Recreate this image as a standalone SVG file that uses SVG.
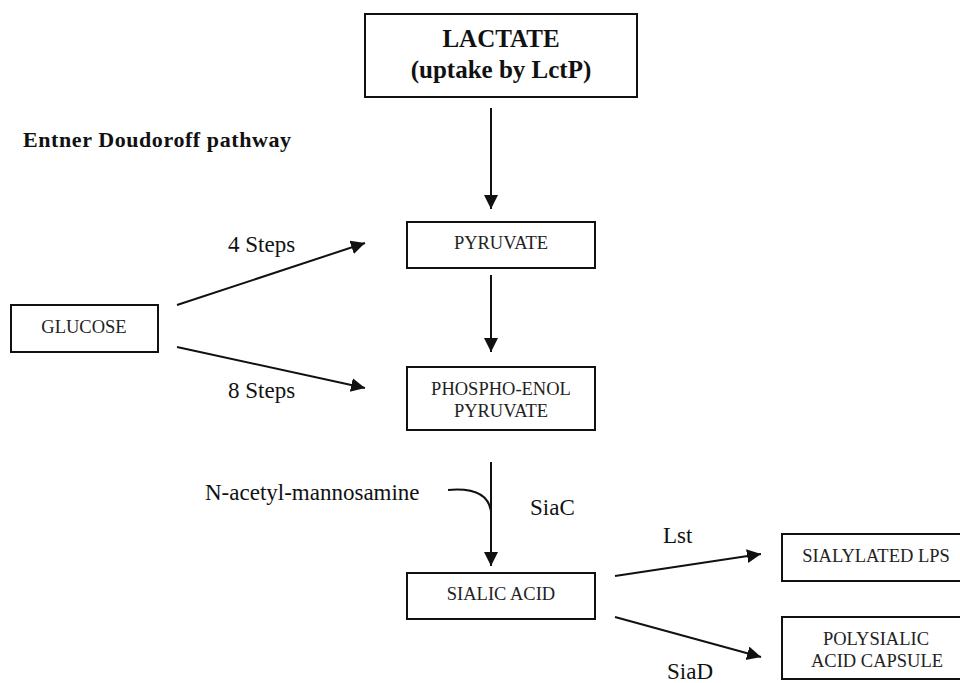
<svg xmlns="http://www.w3.org/2000/svg" width="960" height="683" viewBox="0 0 960 683">
<defs>
<style>
.box{fill:#fff;stroke:#111;stroke-width:2}
.bt{font-family:"Liberation Serif","Times New Roman",serif;font-size:18.5px;fill:#222;text-anchor:middle}
.lbl{font-family:"Liberation Serif","Times New Roman",serif;font-size:23px;fill:#111}
.bold{font-family:"Liberation Serif","Times New Roman",serif;font-weight:bold;fill:#111}
.conn{fill:none;stroke:#111;stroke-width:2}
</style>
<marker id="ah" markerUnits="userSpaceOnUse" markerWidth="16" markerHeight="16" refX="14" refY="7" orient="auto">
<path d="M0,0 L14,7 L0,14 z" fill="#111"/>
</marker>
</defs>
<rect width="960" height="683" fill="#fff"/>
<text class="bold" x="23" y="147" font-size="22" textLength="268">Entner Doudoroff pathway</text>
<g id="lactate">
<rect class="box" x="365" y="14" width="272" height="83"/>
<text class="bold" x="501" y="47" font-size="25" text-anchor="middle">LACTATE</text>
<text class="bold" x="501" y="78" font-size="25" text-anchor="middle">(uptake by LctP)</text>
</g>
<g id="pyruvate">
<rect class="box" x="407" y="222" width="188" height="46"/>
<text class="bt" x="501" y="249">PYRUVATE</text>
</g>
<g id="glucose">
<rect class="box" x="11" y="305" width="147" height="47"/>
<text class="bt" x="84" y="333">GLUCOSE</text>
</g>
<g id="pep">
<rect class="box" x="407" y="367" width="188" height="63"/>
<text class="bt" x="501" y="395">PHOSPHO-ENOL</text>
<text class="bt" x="501" y="417">PYRUVATE</text>
</g>
<g id="sialic">
<rect class="box" x="407" y="573" width="188" height="46"/>
<text class="bt" x="501" y="600">SIALIC ACID</text>
</g>
<g id="lps">
<rect class="box" x="782" y="534" width="190" height="47"/>
<text class="bt" x="876" y="562">SIALYLATED LPS</text>
</g>
<g id="capsule">
<rect class="box" x="782" y="617" width="190" height="62"/>
<text class="bt" x="876" y="645">POLYSIALIC</text>
<text class="bt" x="877" y="667">ACID CAPSULE</text>
</g>
<g id="connectors">
<line class="conn" x1="491" y1="108" x2="491" y2="209" marker-end="url(#ah)"/>
<line class="conn" x1="491" y1="275" x2="491" y2="352" marker-end="url(#ah)"/>
<line class="conn" x1="491" y1="462" x2="491" y2="566" marker-end="url(#ah)"/>
<path class="conn" d="M448,490 C472,488 489,494 491,512"/>
<line class="conn" x1="177" y1="305" x2="365" y2="243" marker-end="url(#ah)"/>
<line class="conn" x1="177" y1="347" x2="365" y2="388" marker-end="url(#ah)"/>
<line class="conn" x1="615" y1="576" x2="761" y2="554" marker-end="url(#ah)"/>
<line class="conn" x1="615" y1="617" x2="761" y2="657" marker-end="url(#ah)"/>
<text class="lbl" x="228" y="252">4 Steps</text>
<text class="lbl" x="228" y="398">8 Steps</text>
<text class="lbl" x="205" y="500">N-acetyl-mannosamine</text>
<text class="lbl" x="530" y="515">SiaC</text>
<text class="lbl" x="663" y="543">Lst</text>
<text class="lbl" x="667" y="679">SiaD</text>
</g>
</svg>
